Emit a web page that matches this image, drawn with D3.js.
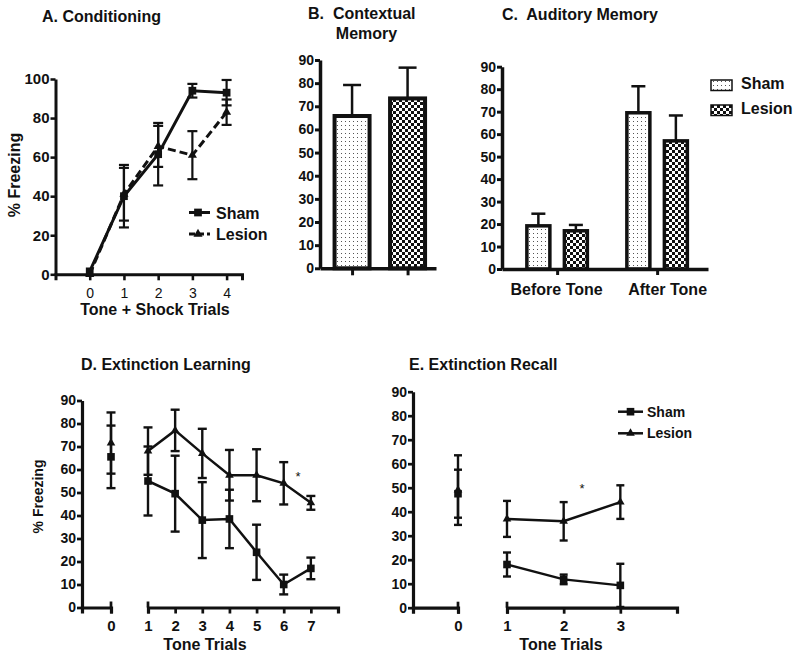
<!DOCTYPE html>
<html><head><meta charset="utf-8">
<script src="https://cdn.jsdelivr.net/npm/d3@7/dist/d3.min.js"></script>
<style>
body{margin:0;background:#fff;}
svg{display:block;font-family:"Liberation Sans",Arial,Helvetica,sans-serif;}
text{fill:#111;}
</style></head>
<body>
<svg id="c" width="800" height="657"></svg>
<script>
// ---------- DATA ----------
// A. Conditioning
const condTrials = [0, 1, 2, 3, 4];
const condSham = [1.5, 40, 61.5, 94, 93];
const condShamErr = [0, 16, 16, 3.5, 6.5];
const condLesion = [0, 41, 65.5, 61, 83];
const condLesionErr = [0, 13.5, 10.5, 12.3, 6.5];
const condYTicks = [0, 20, 40, 60, 80, 100];

// B. Contextual memory
const ctxGroups = ["Sham", "Lesion"];
const ctxMean = [65.8, 73.4];
const ctxErr = [13.4, 13.3];

// C. Auditory memory
const audPhases = ["Before Tone", "After Tone"];
const audSham = [19.2, 69.5];
const audShamErr = [5.4, 11.8];
const audLesion = [17, 57];
const audLesionErr = [2.6, 11.3];

// D. Extinction learning
const extTrials = [0, 1, 2, 3, 4, 5, 6, 7];
const extSham = [65.5, 55, 49.5, 38, 38.5, 24, 10, 17];
const extShamErr = [13.6, 15, 16.5, 16.5, 12.7, 12, 4.3, 4.7];
const extLesion = [71.5, 68, 77, 67, 57.5, 57.5, 54, 45.5];
const extLesionErr = [13.3, 10.3, 9, 10.7, 11, 11.3, 9.2, 3];

// E. Extinction recall
const recTrials = [0, 1, 2, 3];
const recSham = [47.5, 18, 11.8, 9.3];
const recShamErr = [10, 5, 2, 9];
const recLesion = [49, 37, 36, 44];
const recLesionErr = [14.5, 7.5, 8, 7];

const yTicks90 = [0, 10, 20, 30, 40, 50, 60, 70, 80, 90];
const groupNames = ["Sham", "Lesion"];

// ---------- DRAWING ----------
const svg = d3.select("#c");
const INK = "#111";
const fmtInt = d3.format("d");
const defs = svg.append("defs");
const pd = defs.append("pattern").attr("id","dots").attr("patternUnits","userSpaceOnUse").attr("width",4).attr("height",4);
pd.append("rect").attr("width",4).attr("height",4).attr("fill","#fff");
pd.append("rect").attr("x",1).attr("y",1).attr("width",1).attr("height",1).attr("fill","#555");
const pc = defs.append("pattern").attr("id","check").attr("patternUnits","userSpaceOnUse").attr("width",6).attr("height",6);
pc.append("rect").attr("width",6).attr("height",6).attr("fill","#fff");
pc.append("rect").attr("width",3).attr("height",3).attr("fill",INK);
pc.append("rect").attr("x",3).attr("y",3).attr("width",3).attr("height",3).attr("fill",INK);
const fills = {Sham:"url(#dots)", Lesion:"url(#check)"};

function styleAxis(g, sw, fs, bold){
  g.select(".domain").attr("stroke",INK).attr("stroke-width",sw);
  g.selectAll(".tick line").attr("stroke",INK).attr("stroke-width",sw*0.85);
  g.selectAll(".tick text").attr("fill",INK).style("font-size",fs+"px")
    .style("font-weight",bold?"bold":"normal").attr("font-family",null);
}
function txt(x,y,s,size,opts={}){
  const t = svg.append("text").attr("x",x).attr("y",y).text(s)
    .style("font-size",size+"px").style("font-weight",opts.weight||"bold")
    .attr("text-anchor",opts.anchor||"start").style("white-space","pre");
  if(opts.rotate) t.attr("transform",`rotate(-90,${x},${y})`);
  return t;
}
function errBar(g, x, y, v, e, cap, sw, upOnly){
  const lo = upOnly ? v : v - e, hi = v + e;
  g.append("line").attr("x1",x).attr("x2",x).attr("y1",y(lo)).attr("y2",y(hi))
    .attr("stroke",INK).attr("stroke-width",sw);
  const caps = upOnly ? [hi] : [lo, hi];
  caps.forEach(c=>g.append("line").attr("x1",x-cap/2).attr("x2",x+cap/2)
    .attr("y1",y(c)).attr("y2",y(c)).attr("stroke",INK).attr("stroke-width",sw));
}
const sq = s => d3.symbol().type(d3.symbolSquare).size(s)();
const tri = s => d3.symbol().type(d3.symbolTriangle).size(s)();

// ===== Panel A =====
{
  const x = d3.scaleLinear().domain([-1, 4.45]).range([55.5, 242]);
  const y = d3.scaleLinear().domain([0, 100]).range([274.3, 79]);
  const g = svg.append("g");
  const gy = g.append("g").attr("transform",`translate(${x(-1)},0)`)
    .call(d3.axisLeft(y).tickValues(condYTicks).tickFormat(fmtInt).tickSize(5).tickSizeOuter(0).tickPadding(1));
  styleAxis(gy,3,15,true);
  const gx = g.append("g").attr("transform",`translate(0,${y(0)})`)
    .call(d3.axisBottom(x).tickValues(condTrials).tickFormat(fmtInt).tickSize(6).tickSizeOuter(6).tickPadding(8));
  styleAxis(gx,3,14,false);
  condTrials.forEach((t,i)=>{
    if(condShamErr[i]>0) errBar(g,x(t),y,condSham[i],condShamErr[i],10,2.2);
    if(condLesionErr[i]>0) errBar(g,x(t),y,condLesion[i],condLesionErr[i],10,2.2);
  });
  const line = d3.line().x((d,i)=>x(condTrials[i])).y(d=>y(d));
  g.append("path").attr("d",line(condLesion)).attr("fill","none").attr("stroke",INK)
    .attr("stroke-width",3).attr("stroke-dasharray","8,4");
  g.append("path").attr("d",line(condSham)).attr("fill","none").attr("stroke",INK).attr("stroke-width",3);
  condTrials.forEach((t,i)=>{
    g.append("path").attr("d",tri(36)).attr("transform",`translate(${x(t)},${y(condLesion[i])})`).attr("fill",INK);
    g.append("path").attr("d",sq(60)).attr("transform",`translate(${x(t)},${y(condSham[i])})`).attr("fill",INK);
  });
  const lg = [[212.5,"Sham",sq(60),null],[234,"Lesion",tri(36),"6,3"]];
  lg.forEach(([ly,name,sym,dash])=>{
    g.append("line").attr("x1",189).attr("x2",210).attr("y1",ly).attr("y2",ly)
      .attr("stroke",INK).attr("stroke-width",3).attr("stroke-dasharray",dash);
    g.append("path").attr("d",sym).attr("transform",`translate(198,${ly})`).attr("fill",INK);
    txt(216, ly+6, name, 16);
  });
  txt(42,22,"A. Conditioning",16);
  txt(155,315,"Tone + Shock Trials",16,{anchor:"middle"});
  txt(20,175,"% Freezing",16,{anchor:"middle",rotate:true});
}

// ===== Panel B =====
{
  const x = d3.scalePoint().domain(ctxGroups).range([320,436]).padding(0.545).align(0.53);
  const y = d3.scaleLinear().domain([0,90]).range([268.3,60]);
  const g = svg.append("g");
  ctxGroups.forEach((k,i)=>errBar(g,x(k),y,ctxMean[i],ctxErr[i],18,2.5,true));
  ctxGroups.forEach((k,i)=>{
    g.append("rect").attr("x",x(k)-17.5).attr("width",35).attr("y",y(ctxMean[i]))
      .attr("height",y(0)-y(ctxMean[i])).attr("fill",fills[k]).attr("stroke",INK).attr("stroke-width",4);
  });
  const gy = g.append("g").attr("transform","translate(320,0)")
    .call(d3.axisLeft(y).tickValues(yTicks90).tickFormat(fmtInt).tickSize(5).tickSizeOuter(0).tickPadding(1));
  styleAxis(gy,3.5,14,true);
  const gx = g.append("g").attr("transform",`translate(0,${y(0)})`)
    .call(d3.axisBottom(x).tickSize(7).tickSizeOuter(0).tickFormat(""));
  styleAxis(gx,3.5,14,true);
  txt(308,18.5,"B.  Contextual",16);
  txt(366.5,39,"Memory",16,{anchor:"middle"});
}

// ===== Panel C =====
{
  const x = d3.scalePoint().domain(audPhases).range([502,708]).padding(0.53).align(0.52);
  const y = d3.scaleLinear().domain([0,90]).range([269,66.7]);
  const sub = d3.scalePoint().domain(groupNames).range([-18.75,18.75]);
  const g = svg.append("g");
  const series = {Sham:[audSham,audShamErr], Lesion:[audLesion,audLesionErr]};
  audPhases.forEach((p,i)=>groupNames.forEach(k=>{
    const [m,e] = series[k]; const cx = x(p)+sub(k);
    errBar(g,cx,y,m[i],e[i],14,2.5,true);
    g.append("rect").attr("x",cx-11.5).attr("width",23).attr("y",y(m[i]))
      .attr("height",y(0)-y(m[i])).attr("fill",fills[k]).attr("stroke",INK).attr("stroke-width",3.5);
  }));
  const gy = g.append("g").attr("transform","translate(502,0)")
    .call(d3.axisLeft(y).tickValues(yTicks90).tickFormat(fmtInt).tickSize(5).tickSizeOuter(0).tickPadding(1));
  styleAxis(gy,3.5,14,true);
  const gx = g.append("g").attr("transform",`translate(0,${y(0)})`)
    .call(d3.axisBottom(x).tickSize(6).tickSizeOuter(0).tickPadding(9));
  styleAxis(gx,3.5,16,true);
  gx.selectAll(".tick text").attr("dx",(d,i)=>i===1?10:-1);
  groupNames.forEach((k,i)=>{
    const ly = 80 + i*25;
    g.append("rect").attr("x",711).attr("y",ly).attr("width",21).attr("height",10.5)
      .attr("fill",fills[k]).attr("stroke",INK).attr("stroke-width",1.5);
    txt(741, ly+9, k, 16);
  });
  txt(502,19.5,"C.  Auditory Memory",16);
}

// ---- broken-axis line panels (D, E) ----
function brokenPanel(o){
  const g = svg.append("g");
  const x0 = d3.scaleLinear().domain([-1,0]).range(o.left);
  const x1 = d3.scaleLinear().domain([1,o.maxT+1]).range(o.right);
  const xp = t => t===0 ? x0(0) : x1(t);
  const y = d3.scaleLinear().domain([0,90]).range(o.yr);
  const gy = g.append("g").attr("transform",`translate(${o.left[0]},0)`)
    .call(d3.axisLeft(y).tickValues(yTicks90).tickFormat(fmtInt).tickSize(5).tickSizeOuter(0).tickPadding(1));
  styleAxis(gy,3.2,14,true);
  const ticksR = o.trials.filter(t=>t>0);
  [[x0,[0]],[x1,ticksR]].forEach(([sc,tv])=>{
    const gx = g.append("g").attr("transform",`translate(0,${y(0)})`)
      .call(d3.axisBottom(sc).tickValues(tv).tickFormat(fmtInt).tickSize(6).tickSizeOuter(6).tickPadding(7));
    styleAxis(gx,3.2,15,true);
  });
  [x0(0), x1(1)].forEach(bx=>g.append("line").attr("x1",bx).attr("x2",bx)
    .attr("y1",y(0)).attr("y2",y(0)-6).attr("stroke",INK).attr("stroke-width",2.7));
  o.trials.forEach((t,i)=>{
    errBar(g,xp(t),y,o.sham[i],o.shamErr[i],o.cap,2.4);
    errBar(g,xp(t),y,o.lesion[i],o.lesionErr[i],o.cap,2.4);
  });
  const line = d3.line().x(d=>xp(d[0])).y(d=>y(d[1]));
  [o.sham,o.lesion].forEach(s=>{
    const pts = o.trials.map((t,i)=>[t,s[i]]).filter(d=>d[0]>0);
    g.append("path").attr("d",line(pts)).attr("fill","none").attr("stroke",INK).attr("stroke-width",2.5);
  });
  o.trials.forEach((t,i)=>{
    g.append("path").attr("d",sq(58)).attr("transform",`translate(${xp(t)},${y(o.sham[i])})`).attr("fill",INK);
    g.append("path").attr("d",tri(32)).attr("transform",`translate(${xp(t)},${y(o.lesion[i])})`).attr("fill",INK);
  });
  return {g,x0,x1,y};
}

// ===== Panel D =====
{
  brokenPanel({left:[82,111], right:[148,338], yr:[607.5,400.5], maxT:7, trials:extTrials,
    sham:extSham, shamErr:extShamErr, lesion:extLesion, lesionErr:extLesionErr, cap:9});
  txt(81,370,"D. Extinction Learning",16);
  txt(205,650,"Tone Trials",16,{anchor:"middle"});
  txt(42.5,496.5,"% Freezing",14,{anchor:"middle",rotate:true});
  txt(298,481,"*",13,{anchor:"middle",weight:"normal"});
}

// ===== Panel E =====
{
  const p = brokenPanel({left:[413,458], right:[507,677], yr:[607.7,391.7], maxT:3, trials:recTrials,
    sham:recSham, shamErr:recShamErr, lesion:recLesion, lesionErr:recLesionErr, cap:8});
  txt(409,370,"E. Extinction Recall",16);
  txt(561,650,"Tone Trials",16,{anchor:"middle"});
  txt(582,493,"*",13,{anchor:"middle",weight:"normal"});
  [[411.7,"Sham",sq(58)],[433.3,"Lesion",tri(32)]].forEach(([ly,name,sym])=>{
    p.g.append("line").attr("x1",618).attr("x2",643).attr("y1",ly).attr("y2",ly)
      .attr("stroke",INK).attr("stroke-width",2.5);
    p.g.append("path").attr("d",sym).attr("transform",`translate(630.5,${ly})`).attr("fill",INK);
    txt(647, ly+5, name, 14);
  });
}
</script>
</body></html>
